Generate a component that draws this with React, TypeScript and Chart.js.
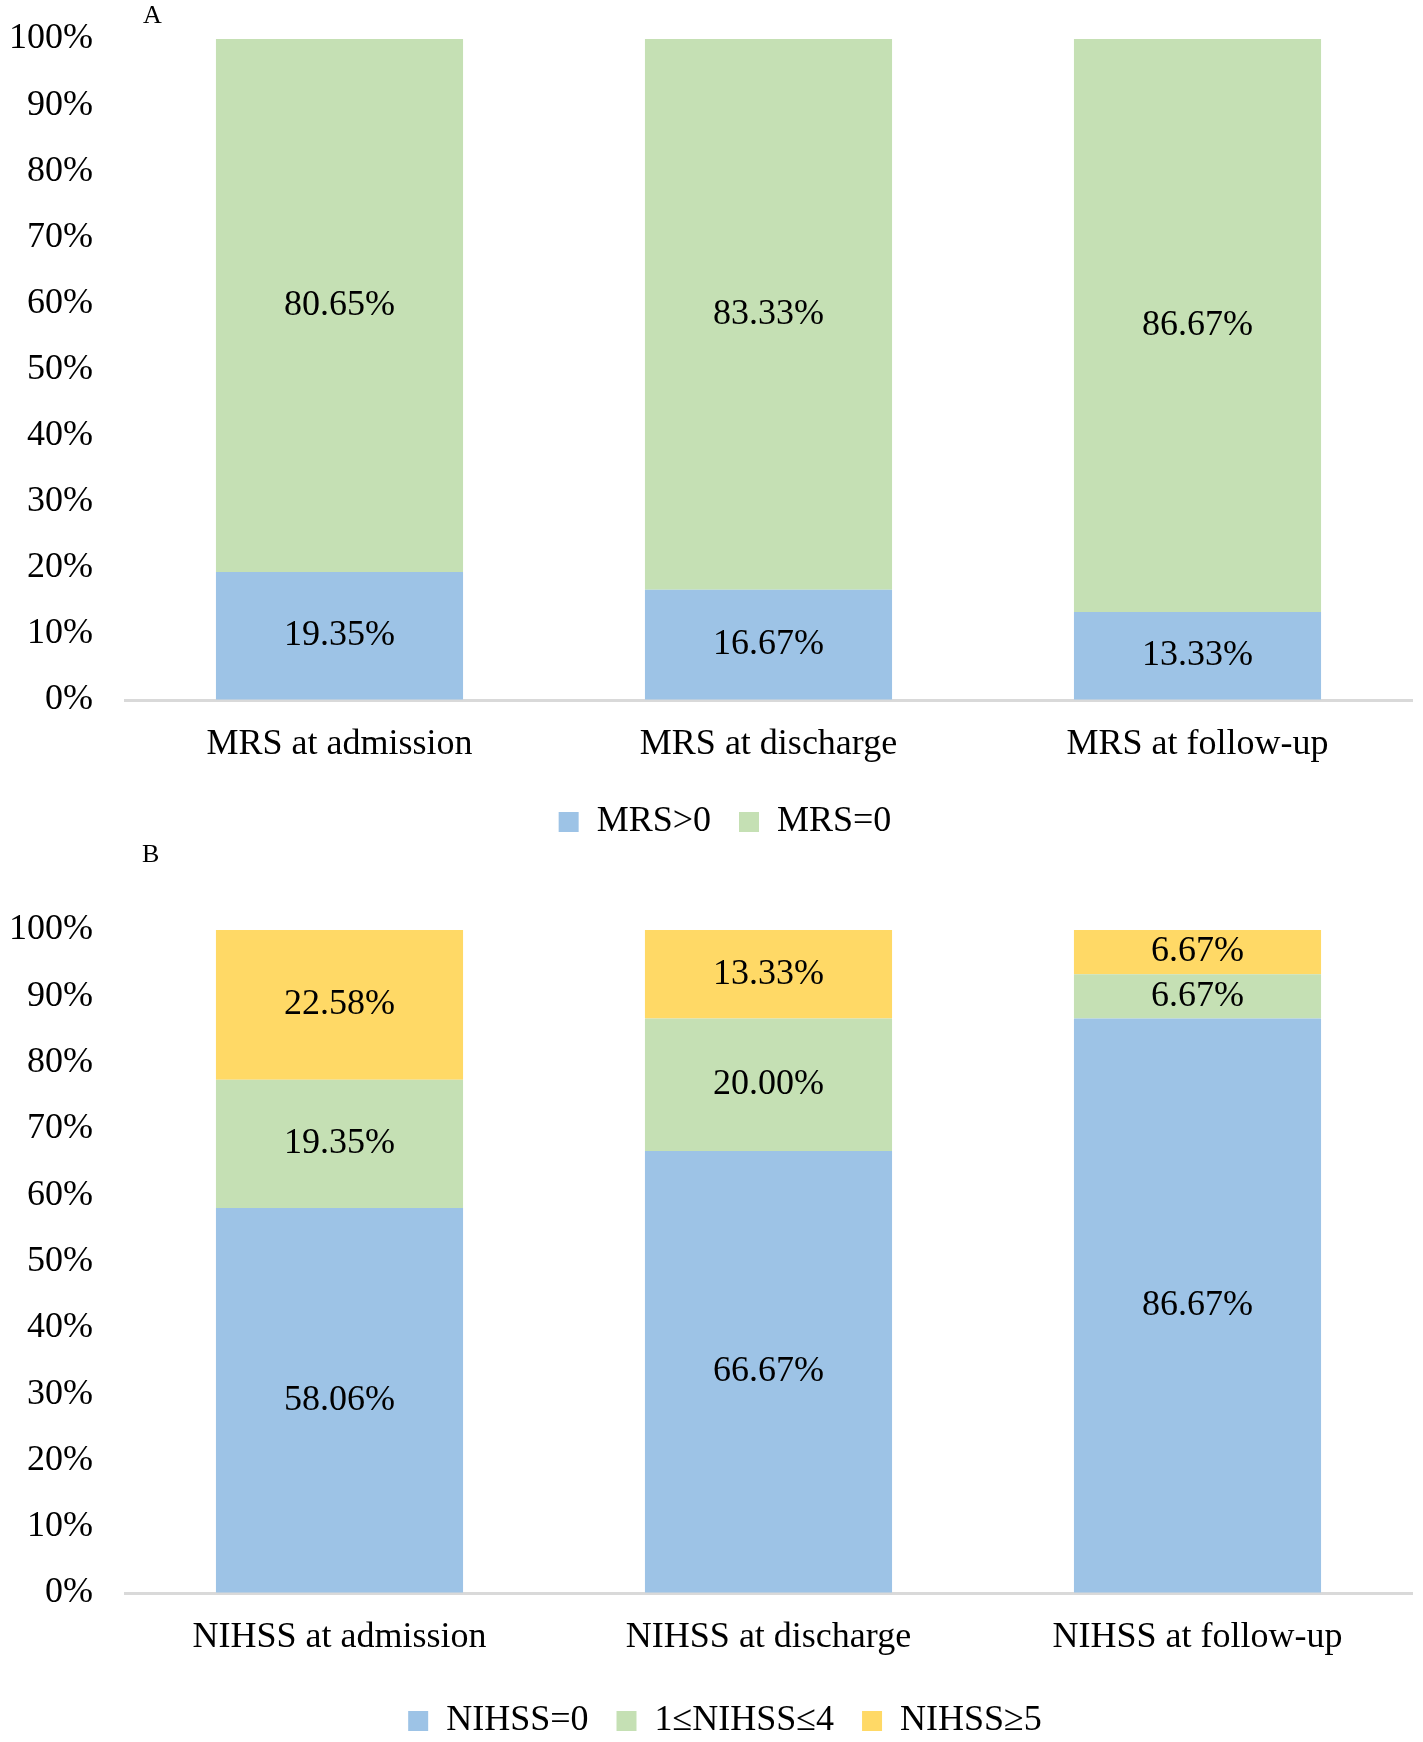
import { useEffect, useRef } from "react";
import { Chart, registerables } from "chart.js";

Chart.register(...registerables);

const FONT = '"Liberation Serif", "Times New Roman", serif';

const mrsCategories = ["MRS at admission", "MRS at discharge", "MRS at follow-up"];
const mrsAbove0 = [19.35, 16.67, 13.33];
const mrsEqual0 = [80.65, 83.33, 86.67];

const nihssCategories = ["NIHSS at admission", "NIHSS at discharge", "NIHSS at follow-up"];
const nihssZero = [58.06, 66.67, 86.67];
const nihssOneToFour = [19.35, 20.0, 6.67];
const nihssFivePlus = [22.58, 13.33, 6.67];

const BLUE = "#9dc3e6";
const GREEN = "#c5e0b4";
const YELLOW = "#ffd966";

// prints each segment's value in its middle
const valueLabels = {
  id: "valueLabels",
  afterDatasetsDraw(chart: any) {
    const { ctx } = chart;
    ctx.save();
    ctx.font = `36px ${FONT}`;
    ctx.fillStyle = "#000";
    ctx.textAlign = "center";
    ctx.textBaseline = "middle";
    chart.data.datasets.forEach((ds: any, i: number) => {
      const meta = chart.getDatasetMeta(i);
      meta.data.forEach((bar: any, j: number) => {
        const v = ds.data[j] as number;
        ctx.fillText(v.toFixed(2) + "%", bar.x, (bar.y + bar.base) / 2);
      });
    });
    ctx.restore();
  },
};

// the original legend sits a bit right of the canvas centre
const legendNudge = {
  id: "legendNudge",
  afterLayout(chart: any) {
    const legend = chart.legend;
    if (!legend) return;
    legend.left += 19;
    legend.right += 19;
  },
};

type Series = { label: string; data: number[]; color: string };

type Props = {
  categories: string[];
  series: Series[];
  height: number;
  topPad: number;
  xHeight: number;
};

function StackedChart({ categories, series, height, topPad, xHeight }: Props) {
  const canvasRef = useRef<HTMLCanvasElement>(null);

  useEffect(() => {
    if (!canvasRef.current) return;

    const chart = new Chart(canvasRef.current, {
      type: "bar",
      data: {
        labels: categories,
        datasets: series.map((s) => ({
          label: s.label,
          data: s.data,
          backgroundColor: s.color,
          borderWidth: 0,
          categoryPercentage: 1,
          barPercentage: 0.576,
        })),
      },
      options: {
        responsive: true,
        maintainAspectRatio: false,
        animation: false,
        layout: {
          padding: { top: topPad, right: 11, left: 0, bottom: 0 },
        },
        plugins: {
          tooltip: { enabled: false },
          legend: {
            position: "bottom",
            labels: {
              color: "#000",
              font: { family: FONT, size: 36 },
              boxWidth: 20,
              boxHeight: 20,
              padding: 28,
            },
          },
        },
        scales: {
          x: {
            stacked: true,
            grid: { display: false, drawTicks: false },
            border: { display: true, color: "#d9d9d9", width: 3 },
            ticks: {
              color: "#000",
              font: { family: FONT, size: 36 },
              padding: 23,
              maxRotation: 0,
            },
            afterFit: (scale: any) => {
              scale.height = xHeight;
            },
          },
          y: {
            stacked: true,
            min: 0,
            max: 100,
            grid: {
              display: true,
              drawOnChartArea: false,
              drawTicks: true,
              tickLength: 29,
              tickColor: "rgba(0,0,0,0)",
            },
            border: { display: false },
            ticks: {
              stepSize: 10,
              color: "#000",
              font: { family: FONT, size: 36 },
              padding: 3,
              callback: (v: any) => `${v}%`,
            },
            afterFit: (scale: any) => {
              scale.width = 125;
            },
          },
        },
      },
      plugins: [valueLabels, legendNudge],
    });

    return () => {
      chart.destroy();
    };
  }, []);

  return (
    <div style={{ position: "relative", width: 1423, height }}>
      <canvas ref={canvasRef} />
    </div>
  );
}

const letterStyle = {
  position: "absolute" as const,
  fontFamily: FONT,
  fontSize: 26,
  color: "#000",
};

export default function App() {
  return (
    <div
      style={{
        position: "relative",
        width: 1423,
        height: 1742,
        overflow: "hidden",
        background: "#fff",
      }}
    >
      <style>{`body{margin:0;}`}</style>
      <StackedChart
        categories={mrsCategories}
        series={[
          { label: "MRS>0", data: mrsAbove0, color: BLUE },
          { label: "MRS=0", data: mrsEqual0, color: GREEN },
        ]}
        height={850}
        topPad={39}
        xHeight={76}
      />
      <StackedChart
        categories={nihssCategories}
        series={[
          { label: "NIHSS=0", data: nihssZero, color: BLUE },
          { label: "1≤NIHSS≤4", data: nihssOneToFour, color: GREEN },
          { label: "NIHSS≥5", data: nihssFivePlus, color: YELLOW },
        ]}
        height={899}
        topPad={80}
        xHeight={82}
      />
      <div style={{ ...letterStyle, left: 143, top: 0 }}>A</div>
      <div style={{ ...letterStyle, left: 142, top: 839 }}>B</div>
    </div>
  );
}
